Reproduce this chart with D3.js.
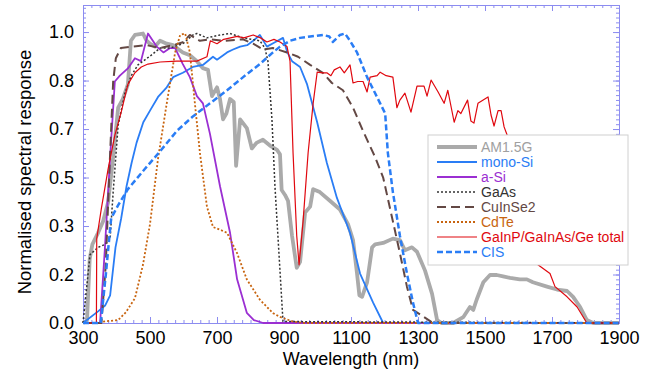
<!DOCTYPE html>
<html>
<head>
<meta charset="utf-8">
<script src="https://cdn.jsdelivr.net/npm/d3@7"></script>
<style>
  body { margin: 0; background: #fff; }
  text { font-family: "Liberation Sans", Arial, Helvetica, sans-serif; }
</style>
</head>
<body>
<svg id="chart" width="656" height="378"></svg>
<script>
// wavelength (nm), normalised response
const am15g = [[300,0],[312,0.01],[320,0.22],[328,0.27],[345,0.31],[360,0.35],[375,0.415],[390,0.57],[405,0.74],[419,0.77],[434,0.82],[443,0.97],[455,0.99],[479,0.995],[490,0.97],[500,0.96],[515,0.95],[530,0.97],[550,0.96],[569,0.955],[598,0.93],[619,0.92],[640,0.9],[658,0.876],[673,0.87],[685,0.78],[700,0.81],[709,0.77],[718,0.7],[728,0.72],[739,0.77],[750,0.76],[757,0.54],[769,0.7],[789,0.67],[804,0.6],[819,0.62],[837,0.63],[858,0.61],[879,0.595],[888,0.58],[893,0.457],[903,0.44],[912,0.42],[924,0.3],[938,0.19],[948,0.21],[963,0.38],[978,0.4],[987,0.46],[1007,0.45],[1037,0.42],[1067,0.39],[1091,0.34],[1106,0.285],[1118,0.17],[1125,0.095],[1133,0.09],[1148,0.14],[1163,0.26],[1172,0.27],[1196,0.275],[1225,0.29],[1246,0.285],[1261,0.25],[1282,0.26],[1297,0.245],[1321,0.18],[1342,0.1],[1357,0.01],[1370,0],[1405,0],[1435,0.02],[1455,0.055],[1465,0.045],[1475,0.08],[1495,0.14],[1515,0.165],[1535,0.165],[1554,0.16],[1575,0.155],[1604,0.15],[1625,0.15],[1643,0.14],[1685,0.125],[1715,0.115],[1745,0.11],[1763,0.09],[1784,0.055],[1804,0.01],[1823,0],[1900,0]]

const monoSi = [[300,0],[345,0.04],[366,0.06],[381,0.095],[397,0.26],[414,0.36],[430,0.47],[445,0.55],[460,0.62],[480,0.69],[500,0.73],[524,0.777],[550,0.81],[569,0.845],[598,0.86],[628,0.88],[658,0.887],[688,0.915],[700,0.905],[730,0.93],[748,0.94],[769,0.95],[790,0.955],[808,0.97],[828,0.99],[849,0.95],[873,0.965],[897,0.98],[910,0.93],[924,0.9],[948,0.88],[969,0.82],[999,0.69],[1028,0.55],[1058,0.43],[1097,0.31],[1127,0.17],[1166,0.07],[1196,0],[1900,0]]

const aSi = [[300,0],[351,0],[365,0.25],[381,0.57],[395,0.83],[410,0.85],[434,0.875],[455,0.91],[473,0.9],[494,0.995],[520,0.95],[540,0.93],[560,0.945],[575,0.945],[598,0.89],[619,0.845],[640,0.78],[658,0.755],[679,0.65],[709,0.47],[739,0.31],[760,0.15],[789,0.035],[810,0.01],[838,0],[1900,0]]

const gaAs = [[300,0],[321,0.235],[345,0.26],[366,0.27],[381,0.29],[390,0.45],[405,0.68],[425,0.79],[444,0.85],[464,0.887],[503,0.92],[530,0.945],[560,0.945],[598,0.96],[628,0.99],[640,0.995],[670,0.98],[709,0.99],[739,0.995],[778,0.98],[828,0.97],[843,0.945],[852,0.9],[864,0.7],[873,0.47],[888,0.18],[897,0.005],[1900,0]]

const cuInSe2 = [[300,0],[355,0],[368,0.2],[378,0.5],[390,0.83],[398,0.91],[413,0.945],[449,0.95],[490,0.955],[530,0.945],[569,0.955],[598,0.965],[619,0.99],[649,0.97],[680,0.975],[720,0.97],[778,0.975],[808,0.96],[838,0.94],[867,0.945],[909,0.93],[942,0.915],[978,0.887],[1016,0.86],[1043,0.825],[1076,0.8],[1106,0.74],[1136,0.66],[1172,0.57],[1196,0.5],[1225,0.35],[1246,0.24],[1267,0.125],[1285,0.045],[1300,0.034],[1345,0],[1900,0]]

const cdTe = [[360,0.005],[405,0.01],[428,0.037],[455,0.085],[479,0.2],[500,0.34],[524,0.565],[550,0.755],[575,0.93],[590,0.99],[605,0.995],[619,0.93],[634,0.755],[649,0.585],[670,0.4],[688,0.33],[710,0.32],[730,0.31],[760,0.24],[789,0.15],[828,0.08],[867,0.034],[890,0.02],[927,0.005],[960,0],[1900,0]]

const gaInP = [[300,0],[340,0],[341,0.29],[355,0.395],[375,0.53],[395,0.645],[414,0.725],[434,0.82],[455,0.86],[474,0.88],[494,0.89],[530,0.897],[580,0.9],[640,0.9],[670,0.915],[680,0.97],[700,0.96],[720,0.975],[740,0.98],[760,0.985],[780,0.98],[808,0.99],[830,0.98],[849,0.966],[870,0.975],[888,0.966],[909,0.95],[918,0.9],[927,0.585],[938,0.3],[945,0.2],[957,0.35],[972,0.585],[987,0.755],[999,0.862],[1015,0.86],[1028,0.86],[1040,0.85],[1050,0.87],[1067,0.88],[1080,0.86],[1097,0.887],[1106,0.825],[1120,0.83],[1136,0.83],[1148,0.794],[1157,0.845],[1178,0.85],[1187,0.862],[1205,0.85],[1225,0.845],[1237,0.74],[1246,0.766],[1261,0.79],[1279,0.725],[1297,0.814],[1318,0.814],[1327,0.78],[1339,0.835],[1360,0.794],[1378,0.755],[1389,0.8],[1408,0.69],[1419,0.73],[1428,0.72],[1448,0.766],[1458,0.694],[1467,0.687],[1479,0.755],[1509,0.777],[1518,0.715],[1527,0.677],[1539,0.73],[1548,0.73],[1557,0.674],[1566,0.646],[1580,0.6],[1610,0.45],[1640,0.3],[1658,0.2],[1694,0.17],[1709,0.125],[1745,0.09],[1775,0.055],[1804,0],[1900,0]]

const cis = [[300,0],[353,0],[368,0.165],[384,0.36],[405,0.405],[434,0.46],[485,0.53],[530,0.59],[580,0.66],[628,0.71],[679,0.755],[730,0.8],[778,0.845],[828,0.89],[867,0.93],[888,0.95],[918,0.97],[948,0.98],[978,0.985],[1016,0.99],[1035,0.985],[1046,0.966],[1067,0.99],[1082,0.995],[1097,0.97],[1118,0.93],[1148,0.845],[1187,0.755],[1202,0.72],[1210,0.585],[1225,0.45],[1246,0.3],[1267,0.17],[1285,0.07],[1300,0],[1900,0]]

const seriesNames = ['AM1.5G', 'mono-Si', 'a-Si', 'GaAs', 'CuInSe2', 'CdTe', 'GaInP/GaInAs/Ge total', 'CIS']
const xTicks = [300, 500, 700, 900, 1100, 1300, 1500, 1700, 1900]
const yTicks = [0, 1 / 6, 2 / 6, 3 / 6, 4 / 6, 5 / 6, 1]

const series = [
  { name: seriesNames[0], data: am15g, color: '#aaaaaa', text: '#a0a0a0', width: 3.8, dash: null },
  { name: seriesNames[1], data: monoSi, color: '#2a7df5', text: '#2a7df5', width: 1.8, dash: null },
  { name: seriesNames[2], data: aSi, color: '#9b2fd2', text: '#9b2fd2', width: 1.8, dash: null },
  { name: seriesNames[3], data: gaAs, color: '#333333', text: '#333333', width: 1.5, dash: '2,2' },
  { name: seriesNames[4], data: cuInSe2, color: '#634844', text: '#634844', width: 2, dash: '9,5' },
  { name: seriesNames[5], data: cdTe, color: '#c8640f', text: '#c8640f', width: 1.8, dash: '2,2' },
  { name: seriesNames[6], data: gaInP, color: '#e0080f', text: '#e0080f', width: 1.2, dash: null },
  { name: seriesNames[7], data: cis, color: '#2a7df5', text: '#2a7df5', width: 2.5, dash: '6,3' }
]

const axisColor = '#8c8cf0'
const m = { left: 83, right: 619, top: 5, bottom: 323 }

const x = d3.scaleLinear().domain([300, 1900]).range([m.left, m.right])
const y = d3.scaleLinear().domain([0, 1.093]).range([m.bottom, m.top])

const svg = d3.select('#chart')
const g = svg.append('g')

// frame and ticks
function styleAxis(sel) {
  sel.selectAll('path.domain').attr('stroke', axisColor)
  sel.selectAll('.tick line').attr('stroke', axisColor)
  sel.selectAll('.tick text').attr('fill', '#000').style('font-size', '18px')
}

const xMinor = d3.range(300, 1901, 25)
const yMinor = d3.range(0, 1.09, 1 / 60)

// bottom
g.append('g').attr('transform', `translate(0,${m.bottom})`)
  .call(d3.axisBottom(x).tickValues(xMinor).tickSize(-3).tickSizeOuter(0).tickFormat(''))
  .call(styleAxis)
g.append('g').attr('transform', `translate(0,${m.bottom})`)
  .call(d3.axisBottom(x).tickValues(xTicks).tickSize(-6).tickSizeOuter(0).tickPadding(8).tickFormat(d3.format('d')))
  .call(styleAxis)
// top
g.append('g').attr('transform', `translate(0,${m.top})`)
  .call(d3.axisTop(x).tickValues(xMinor).tickSize(-3).tickSizeOuter(0).tickFormat(''))
  .call(styleAxis)
g.append('g').attr('transform', `translate(0,${m.top})`)
  .call(d3.axisTop(x).tickValues(xTicks).tickSize(-6).tickSizeOuter(0).tickFormat(''))
  .call(styleAxis)
// left
g.append('g').attr('transform', `translate(${m.left},0)`)
  .call(d3.axisLeft(y).tickValues(yMinor).tickSize(-3).tickSizeOuter(0).tickFormat(''))
  .call(styleAxis)
g.append('g').attr('transform', `translate(${m.left},0)`)
  .call(d3.axisLeft(y).tickValues(yTicks).tickSize(-6).tickSizeOuter(0).tickPadding(9).tickFormat(d3.format('.1f')))
  .call(styleAxis)
// right
g.append('g').attr('transform', `translate(${m.right},0)`)
  .call(d3.axisRight(y).tickValues(yMinor).tickSize(-3).tickSizeOuter(0).tickFormat(''))
  .call(styleAxis)
g.append('g').attr('transform', `translate(${m.right},0)`)
  .call(d3.axisRight(y).tickValues(yTicks).tickSize(-6).tickSizeOuter(0).tickFormat(''))
  .call(styleAxis)

// axis titles
svg.append('text')
  .attr('x', (m.left + m.right) / 2).attr('y', 365)
  .attr('text-anchor', 'middle').style('font-size', '18px')
  .text('Wavelength (nm)')
svg.append('text')
  .attr('transform', `translate(31,${(m.top + m.bottom) / 2 + 8}) rotate(-90)`)
  .attr('text-anchor', 'middle').style('font-size', '18.5px')
  .text('Normalised spectral response')

// curves
const line = d3.line().x((d) => x(d[0])).y((d) => y(d[1]))
g.append('g').selectAll('path')
  .data(series)
  .join('path')
  .attr('d', (d) => line(d.data))
  .attr('fill', 'none')
  .attr('stroke', (d) => d.color)
  .attr('stroke-width', (d) => d.width)
  .attr('stroke-dasharray', (d) => d.dash)
  .attr('stroke-linejoin', 'round')

// legend
const lg = svg.append('g').attr('transform', 'translate(428,135)')
lg.append('rect').attr('width', 200).attr('height', 130)
  .attr('fill', '#fff').attr('stroke', '#d0d0d0')
const rows = lg.selectAll('g.row').data(series).join('g')
  .attr('class', 'row')
  .attr('transform', (d, i) => `translate(0,${12 + i * 15})`)
rows.append('line')
  .attr('x1', 9).attr('x2', 49)
  .attr('stroke', (d) => d.color)
  .attr('stroke-width', (d) => d.width)
  .attr('stroke-dasharray', (d) => d.dash)
rows.append('text')
  .attr('x', 53).attr('dy', '0.35em')
  .attr('fill', (d) => d.text)
  .style('font-size', '14px')
  .text((d) => d.name)
</script>
</body>
</html>
